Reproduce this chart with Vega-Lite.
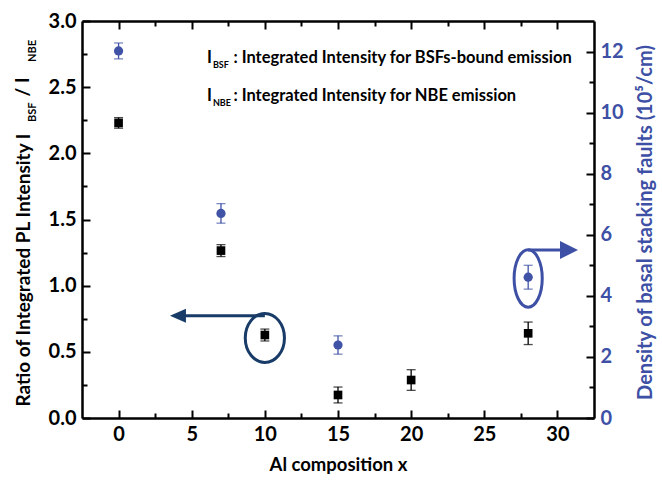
{
  "$schema": "https://vega.github.io/schema/vega-lite/v6.json",
  "width": 512,
  "height": 397,
  "autosize": {"type": "none"},
  "padding": {"left": 82, "top": 21, "right": 68, "bottom": 64},
  "background": "white",
  "config": {
    "view": {"stroke": null},
    "font": "Lato",
    "axis": {
      "domainColor": "black",
      "domainWidth": 2.5,
      "tickColor": "black",
      "tickWidth": 2,
      "grid": false,
      "labelFont": "Lato",
      "labelFontWeight": "bold",
      "labelFontSize": 20,
      "labelColor": "black",
      "titleFont": "Lato",
      "titleFontWeight": "bold",
      "titleFontSize": 19,
      "titleColor": "black",
      "labelFlush": false,
      "labelOverlap": false
    },
    "text": {"font": "Lato", "fontWeight": "bold"}
  },
  "datasets": {
    "ratio": [
      {"x": 0, "v": 2.23, "e": 0.04},
      {"x": 7, "v": 1.265, "e": 0.045},
      {"x": 10, "v": 0.627, "e": 0.045},
      {"x": 15, "v": 0.174, "e": 0.06},
      {"x": 20, "v": 0.287, "e": 0.078},
      {"x": 28, "v": 0.64, "e": 0.085}
    ],
    "density": [
      {"x": 0, "v": 12.02, "e": 0.26},
      {"x": 7, "v": 6.7, "e": 0.32},
      {"x": 15, "v": 2.39, "e": 0.3},
      {"x": 28, "v": 4.61, "e": 0.39}
    ],
    "one": [{}]
  },
  "layer": [
    {
      "layer": [
        {
          "data": {"name": "ratio"},
          "mark": {"type": "point", "shape": "square", "filled": true, "color": "black", "size": 75, "opacity": 1},
          "encoding": {
            "x": {
              "field": "x", "type": "quantitative",
              "title": "Al composition x",
              "scale": {"domain": [-2.5, 32.5], "nice": false, "zero": false},
              "axis": {
                "orient": "bottom",
                "values": [0, 5, 10, 15, 20, 25, 30],
                "tickSize": -8,
                "labelPadding": 14,
                "titleFontSize": 18.5,
                "titlePadding": 11
              }
            },
            "y": {
              "field": "v", "type": "quantitative",
              "title": "Ratio of Integrated PL Intensity I",
              "scale": {"domain": [0, 3], "nice": false, "zero": false},
              "axis": {
                "orient": "left",
                "values": [0, 0.5, 1, 1.5, 2, 2.5, 3],
                "format": ".1f",
                "tickSize": -8,
                "labelPadding": 14,
                "titleAngle": 270,
                "titleX": -53,
                "titleY": 385,
                "titleAlign": "left",
                "titleBaseline": "alphabetic"
              }
            }
          }
        },
        {
          "data": {"name": "ratio"},
          "mark": {"type": "errorbar", "ticks": true, "size": 9, "thickness": 1.3, "color": "black"},
          "encoding": {
            "x": {"field": "x", "type": "quantitative", "title": "Al composition x", "scale": {"domain": [-2.5, 32.5], "nice": false, "zero": false}},
            "y": {"field": "v", "type": "quantitative", "title": "Ratio of Integrated PL Intensity I", "scale": {"domain": [0, 3], "nice": false, "zero": false}},
            "yError": {"field": "e"}
          }
        },
        {
          "data": {"name": "one"},
          "mark": {"type": "text", "text": "I", "align": "left", "baseline": "alphabetic", "fontSize": 16.5, "color": "black"},
          "encoding": {
            "x": {"datum": 6.04, "type": "quantitative", "scale": {"domain": [-2.5, 32.5], "nice": false, "zero": false}},
            "y": {"datum": 2.683, "type": "quantitative", "scale": {"domain": [0, 3], "nice": false, "zero": false}}
          }
        },
        {
          "data": {"name": "one"},
          "mark": {"type": "text", "text": "BSF", "align": "left", "baseline": "alphabetic", "fontSize": 9, "color": "black"},
          "encoding": {
            "x": {"datum": 6.45, "type": "quantitative", "scale": {"domain": [-2.5, 32.5], "nice": false, "zero": false}},
            "y": {"datum": 2.645, "type": "quantitative", "scale": {"domain": [0, 3], "nice": false, "zero": false}}
          }
        },
        {
          "data": {"name": "one"},
          "mark": {"type": "text", "text": ": Integrated Intensity for BSFs-bound emission", "align": "left", "baseline": "alphabetic", "fontSize": 16.5, "color": "black"},
          "encoding": {
            "x": {"datum": 7.85, "type": "quantitative", "scale": {"domain": [-2.5, 32.5], "nice": false, "zero": false}},
            "y": {"datum": 2.683, "type": "quantitative", "scale": {"domain": [0, 3], "nice": false, "zero": false}}
          }
        },
        {
          "data": {"name": "one"},
          "mark": {"type": "text", "text": "I", "align": "left", "baseline": "alphabetic", "fontSize": 16.5, "color": "black"},
          "encoding": {
            "x": {"datum": 6.04, "type": "quantitative", "scale": {"domain": [-2.5, 32.5], "nice": false, "zero": false}},
            "y": {"datum": 2.396, "type": "quantitative", "scale": {"domain": [0, 3], "nice": false, "zero": false}}
          }
        },
        {
          "data": {"name": "one"},
          "mark": {"type": "text", "text": "NBE", "align": "left", "baseline": "alphabetic", "fontSize": 9, "color": "black"},
          "encoding": {
            "x": {"datum": 6.45, "type": "quantitative", "scale": {"domain": [-2.5, 32.5], "nice": false, "zero": false}},
            "y": {"datum": 2.358, "type": "quantitative", "scale": {"domain": [0, 3], "nice": false, "zero": false}}
          }
        },
        {
          "data": {"name": "one"},
          "mark": {"type": "text", "text": ": Integrated Intensity for NBE emission", "align": "left", "baseline": "alphabetic", "fontSize": 16.5, "color": "black"},
          "encoding": {
            "x": {"datum": 7.85, "type": "quantitative", "scale": {"domain": [-2.5, 32.5], "nice": false, "zero": false}},
            "y": {"datum": 2.396, "type": "quantitative", "scale": {"domain": [0, 3], "nice": false, "zero": false}}
          }
        },
        {
          "data": {"name": "one"},
          "mark": {"type": "text", "text": "BSF", "align": "left", "baseline": "alphabetic", "fontSize": 11, "angle": 270, "color": "black"},
          "encoding": {
            "x": {"datum": -5.62, "type": "quantitative", "scale": {"domain": [-2.5, 32.5], "nice": false, "zero": false}},
            "y": {"datum": 2.237, "type": "quantitative", "scale": {"domain": [0, 3], "nice": false, "zero": false}}
          }
        },
        {
          "data": {"name": "one"},
          "mark": {"type": "text", "text": "/ I", "align": "left", "baseline": "alphabetic", "fontSize": 19, "angle": 270, "color": "black"},
          "encoding": {
            "x": {"datum": -6.12, "type": "quantitative", "scale": {"domain": [-2.5, 32.5], "nice": false, "zero": false}},
            "y": {"datum": 2.43, "type": "quantitative", "scale": {"domain": [0, 3], "nice": false, "zero": false}}
          }
        },
        {
          "data": {"name": "one"},
          "mark": {"type": "text", "text": "NBE", "align": "left", "baseline": "alphabetic", "fontSize": 11, "angle": 270, "color": "black"},
          "encoding": {
            "x": {"datum": -5.62, "type": "quantitative", "scale": {"domain": [-2.5, 32.5], "nice": false, "zero": false}},
            "y": {"datum": 2.69, "type": "quantitative", "scale": {"domain": [0, 3], "nice": false, "zero": false}}
          }
        },
        {
          "data": {"name": "one"},
          "mark": {"type": "rule", "color": "#183b68", "strokeWidth": 3},
          "encoding": {
            "x": {"datum": 4.54, "type": "quantitative", "scale": {"domain": [-2.5, 32.5], "nice": false, "zero": false}},
            "x2": {"datum": 10.0},
            "y": {"datum": 0.773, "type": "quantitative", "scale": {"domain": [0, 3], "nice": false, "zero": false}}
          }
        },
        {
          "data": {"name": "one"},
          "mark": {"type": "point", "shape": "M -1,0 L 1,-0.875 L 1,0.875 Z", "filled": true, "color": "#183b68", "size": 256, "opacity": 1},
          "encoding": {
            "x": {"datum": 4.06, "type": "quantitative", "scale": {"domain": [-2.5, 32.5], "nice": false, "zero": false}},
            "y": {"datum": 0.773, "type": "quantitative", "scale": {"domain": [0, 3], "nice": false, "zero": false}}
          }
        },
        {
          "data": {"name": "one"},
          "mark": {"type": "point", "shape": "M 0,-1 A 0.8,1 0 1,1 0,1 A 0.8,1 0 1,1 0,-1 Z", "filled": false, "stroke": "#183b68", "strokeWidth": 3, "size": 2401, "opacity": 1},
          "encoding": {
            "x": {"datum": 10.0, "type": "quantitative", "scale": {"domain": [-2.5, 32.5], "nice": false, "zero": false}},
            "y": {"datum": 0.605, "type": "quantitative", "scale": {"domain": [0, 3], "nice": false, "zero": false}}
          }
        }
      ]
    },
    {
      "layer": [
        {
          "data": {"name": "density"},
          "mark": {"type": "point", "shape": "circle", "filled": true, "color": "#4053a6", "size": 85, "opacity": 1},
          "encoding": {
            "x": {
              "field": "x", "type": "quantitative",
              "title": null,
              "scale": {"domain": [-2.5, 32.5], "nice": false, "zero": false},
              "axis": {
                "orient": "top",
                "values": [0, 5, 10, 15, 20, 25, 30],
                "tickSize": -8,
                "labels": false
              }
            },
            "y": {
              "field": "v", "type": "quantitative",
              "title": "Density of basal stacking faults (10⁵/cm)",
              "scale": {"domain": [0, 13], "nice": false, "zero": false},
              "axis": {
                "orient": "right",
                "values": [0, 2, 4, 6, 8, 10, 12],
                "tickSize": -8,
                "labelPadding": 14,
                "labelColor": "#3d50a5",
                "titleColor": "#3d50a5",
                "titleFontSize": 20,
                "titleAngle": 270,
                "titleX": 57,
                "titleY": 201,
                "titleAlign": "center",
                "titleBaseline": "alphabetic"
              }
            }
          }
        },
        {
          "data": {"name": "density"},
          "mark": {"type": "errorbar", "ticks": true, "size": 9, "thickness": 1.3, "color": "#4053a6"},
          "encoding": {
            "x": {"field": "x", "type": "quantitative", "title": null, "scale": {"domain": [-2.5, 32.5], "nice": false, "zero": false}},
            "y": {"field": "v", "type": "quantitative", "title": "Density of basal stacking faults (10⁵/cm)", "scale": {"domain": [0, 13], "nice": false, "zero": false}},
            "yError": {"field": "e"}
          }
        },
        {
          "data": {"name": "one"},
          "mark": {"type": "rule", "color": "#3d50a5", "strokeWidth": 3},
          "encoding": {
            "x": {"datum": 28.0, "type": "quantitative", "scale": {"domain": [-2.5, 32.5], "nice": false, "zero": false}},
            "x2": {"datum": 30.31},
            "y": {"datum": 5.5, "type": "quantitative", "scale": {"domain": [0, 13], "nice": false, "zero": false}}
          }
        },
        {
          "data": {"name": "one"},
          "mark": {"type": "point", "shape": "M 1,0 L -1,-1 L -1,1 Z", "filled": true, "color": "#3d50a5", "size": 324, "opacity": 1},
          "encoding": {
            "x": {"datum": 30.79, "type": "quantitative", "scale": {"domain": [-2.5, 32.5], "nice": false, "zero": false}},
            "y": {"datum": 5.5, "type": "quantitative", "scale": {"domain": [0, 13], "nice": false, "zero": false}}
          }
        },
        {
          "data": {"name": "one"},
          "mark": {"type": "point", "shape": "M 0,-1 A 0.49,1 0 1,1 0,1 A 0.49,1 0 1,1 0,-1 Z", "filled": false, "stroke": "#3d50a5", "strokeWidth": 3, "size": 3295, "opacity": 1},
          "encoding": {
            "x": {"datum": 28.0, "type": "quantitative", "scale": {"domain": [-2.5, 32.5], "nice": false, "zero": false}},
            "y": {"datum": 4.57, "type": "quantitative", "scale": {"domain": [0, 13], "nice": false, "zero": false}}
          }
        }
      ]
    },
    {
      "data": {"name": "one"},
      "mark": {"type": "point", "opacity": 0},
      "encoding": {
        "x": {
          "datum": 0, "type": "quantitative",
          "scale": {"domain": [-2.5, 32.5], "nice": false, "zero": false},
          "axis": {"orient": "bottom", "values": [2.5, 7.5, 12.5, 17.5, 22.5, 27.5], "tickSize": -5, "labels": false, "domain": false, "title": null}
        },
        "y": {
          "datum": 0, "type": "quantitative",
          "scale": {"domain": [0, 3], "nice": false, "zero": false},
          "axis": {"orient": "left", "values": [0.25, 0.75, 1.25, 1.75, 2.25, 2.75], "tickSize": -5, "labels": false, "domain": false, "title": null}
        }
      }
    },
    {
      "data": {"name": "one"},
      "mark": {"type": "point", "opacity": 0},
      "encoding": {
        "x": {
          "datum": 0, "type": "quantitative",
          "scale": {"domain": [-2.5, 32.5], "nice": false, "zero": false},
          "axis": {"orient": "top", "values": [2.5, 7.5, 12.5, 17.5, 22.5, 27.5], "tickSize": -5, "labels": false, "domain": false, "title": null}
        },
        "y": {
          "datum": 0, "type": "quantitative",
          "scale": {"domain": [0, 13], "nice": false, "zero": false},
          "axis": {"orient": "right", "values": [1, 3, 5, 7, 9, 11], "tickSize": -5, "labels": false, "domain": false, "title": null}
        }
      }
    }
  ],
  "resolve": {"scale": {"y": "independent"}, "axis": {"x": "independent", "y": "independent"}}
}
